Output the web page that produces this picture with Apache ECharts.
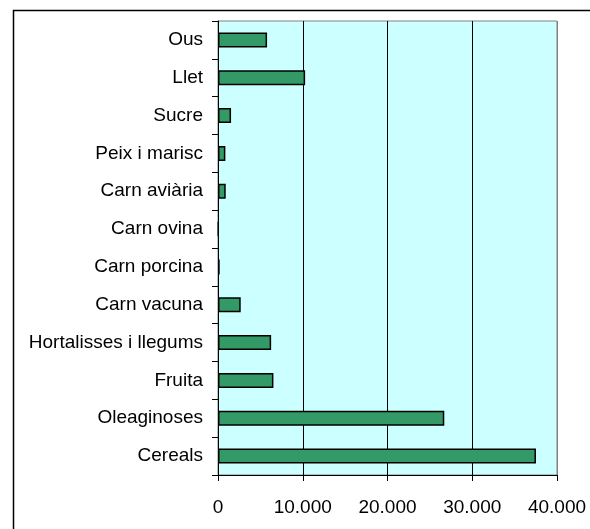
<!DOCTYPE html>
<html>
<head>
<meta charset="utf-8">
<script src="https://cdn.jsdelivr.net/npm/echarts@6/dist/echarts.min.js"></script>
<style>html,body{margin:0;padding:0;background:#fff}#c{width:590px;height:529px}</style>
</head>
<body>
<div id="c"></div>
<script>
var categories = ["Cereals", "Oleaginoses", "Fruita", "Hortalisses i llegums", "Carn vacuna", "Carn porcina", "Carn ovina", "Carn aviària", "Peix i marisc", "Sucre", "Llet", "Ous"];
var values = [37520, 26700, 6540, 6270, 2680, 200, 60, 910, 870, 1540, 10280, 5790];
var xTicks = [0, 10000, 20000, 30000, 40000];

function fmt(v) {
  return String(v).replace(/\B(?=(\d{3})+(?!\d))/g, ".");
}

var FONT = 'Liberation Sans, Arial, sans-serif';
var chart = echarts.init(document.getElementById('c'), null, {renderer: 'canvas'});
chart.setOption({
  animation: false,
  backgroundColor: '#fff',
  textStyle: {fontFamily: FONT},
  graphic: [{
    type: 'rect', left: 11, top: 8, z: 100,
    shape: {width: 700, height: 700},
    style: {fill: 'none', stroke: '#000', lineWidth: 1.5}
  }],
  grid: {
    left: 218, top: 21, right: 33, bottom: 54,
    show: true, backgroundColor: '#ccffff', borderColor: '#808080', borderWidth: 1
  },
  xAxis: {
    type: 'value', min: xTicks[0], max: xTicks[xTicks.length - 1], interval: 10000,
    axisLine: {show: true, lineStyle: {color: '#000', width: 1}},
    axisTick: {show: true, length: 6, lineStyle: {color: '#000'}},
    axisLabel: {formatter: fmt, color: '#000', fontSize: 19, margin: 23, fontFamily: FONT},
    splitLine: {show: true, lineStyle: {color: ['#000', '#000', '#000', '#000', '#808080'], width: 1}}
  },
  yAxis: {
    type: 'category', data: categories,
    axisLine: {show: true, lineStyle: {color: '#000', width: 1}},
    axisTick: {show: true, length: 6, lineStyle: {color: '#000'}},
    axisLabel: {color: '#000', fontSize: 19, margin: 15, fontFamily: FONT},
    splitLine: {show: false}
  },
  series: [{
    type: 'bar', data: values, barWidth: 15,
    itemStyle: {color: '#339966', borderColor: '#000', borderWidth: 1.5}
  }]
});
</script>
</body>
</html>
